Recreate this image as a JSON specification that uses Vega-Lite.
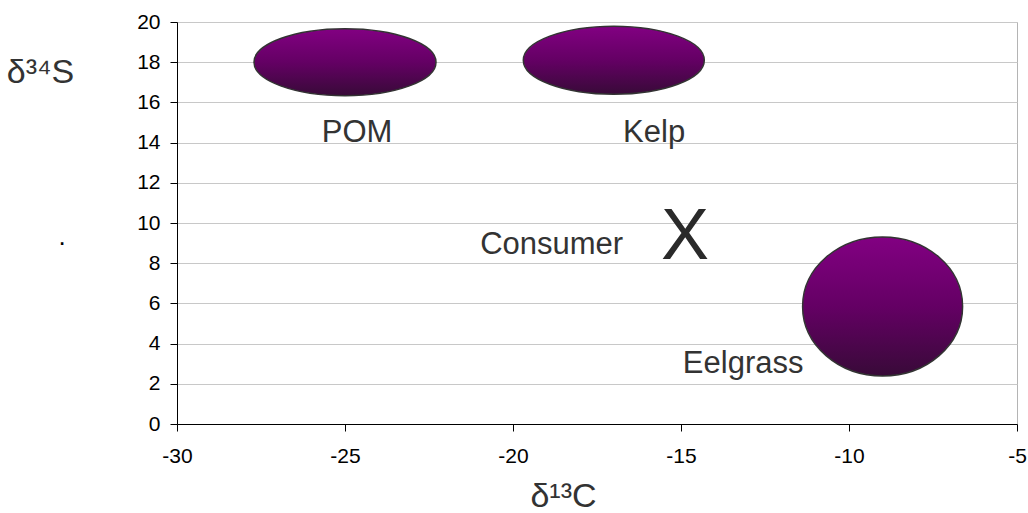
{
  "$schema": "https://vega.github.io/schema/vega-lite/v6.json",
  "width": 840,
  "height": 402,
  "autosize": "none",
  "padding": {"left": 177, "top": 22, "right": 11, "bottom": 89},
  "background": "white",
  "config": {
    "view": {"stroke": "#b4b4b4", "strokeWidth": 1},
    "font": "Liberation Sans"
  },
  "datasets": {
    "sources": [
      {"name": "POM", "x": -25, "y": 18, "lx": -24.64, "ly": 14.5},
      {"name": "Kelp", "x": -17, "y": 18.1, "lx": -15.8, "ly": 14.5},
      {"name": "Eelgrass", "x": -9, "y": 5.85, "lx": -13.15, "ly": 3.0}
    ],
    "consumer": [
      {"name": "Consumer", "x": -14.88, "y": 9.3, "lx": -18.85, "ly": 8.9}
    ],
    "stray": [
      {"x": -33.42, "y": 8.9, "t": "."}
    ]
  },
  "layer": [
    {
      "data": {"name": "sources"},
      "mark": {
        "type": "point",
        "filled": true,
        "opacity": 1,
        "stroke": "#333333",
        "strokeWidth": 1.5,
        "fill": {
          "gradient": "linear",
          "x1": 0, "y1": 0, "x2": 0, "y2": 1,
          "stops": [
            {"offset": 0, "color": "#820082"},
            {"offset": 0.5, "color": "#640064"},
            {"offset": 1, "color": "#380a38"}
          ]
        }
      },
      "encoding": {
        "x": {
          "field": "x", "type": "quantitative",
          "scale": {"domain": [-30, -5], "nice": false, "zero": false},
          "axis": {
            "values": [-30, -25, -20, -15, -10, -5],
            "labelExpr": "'' + datum.value",
            "labelFlush": false,
            "grid": false,
            "domainColor": "black",
            "tickColor": "black",
            "tickSize": 7,
            "labelFontSize": 21,
            "labelColor": "black",
            "labelPadding": 14,
            "title": "δ¹³C",
            "titleFontSize": 34,
            "titleFontWeight": "normal",
            "titleColor": "#333333",
            "titleX": 386,
            "titleY": 82,
            "titleBaseline": "alphabetic",
            "titleAlign": "center"
          }
        },
        "y": {
          "field": "y", "type": "quantitative",
          "scale": {"domain": [0, 20], "nice": false, "zero": false},
          "axis": {
            "values": [0, 2, 4, 6, 8, 10, 12, 14, 16, 18, 20],
            "labelFlush": false,
            "grid": true,
            "gridColor": "#c8c8c8",
            "domainColor": "black",
            "tickColor": "black",
            "tickSize": 7,
            "labelFontSize": 21,
            "labelColor": "black",
            "labelPadding": 10,
            "title": "δ³⁴S",
            "titleFontSize": 34,
            "titleFontWeight": "normal",
            "titleColor": "#333333",
            "titleAngle": 0,
            "titleX": -137,
            "titleY": 60,
            "titleAlign": "center",
            "titleBaseline": "alphabetic"
          }
        },
        "shape": {
          "field": "name", "type": "nominal",
          "scale": {
            "domain": ["POM", "Kelp", "Eelgrass"],
            "range": [
              "M-1,0A1,0.368,0,1,0,1,0A1,0.368,0,1,0,-1,0Z",
              "M-1,0A1,0.376,0,1,0,1,0A1,0.376,0,1,0,-1,0Z",
              "M-1,0A1,0.869,0,1,0,1,0A1,0.869,0,1,0,-1,0Z"
            ]
          },
          "legend": null
        },
        "size": {
          "field": "name", "type": "nominal",
          "scale": {"type": "ordinal", "domain": ["POM", "Kelp", "Eelgrass"], "range": [33124, 32761, 25600]},
          "legend": null
        }
      }
    },
    {
      "data": {"name": "sources"},
      "mark": {"type": "text", "fontSize": 31, "color": "#333333", "align": "center", "baseline": "middle"},
      "encoding": {
        "x": {"field": "lx", "type": "quantitative"},
        "y": {"field": "ly", "type": "quantitative"},
        "text": {"field": "name"}
      }
    },
    {
      "data": {"name": "consumer"},
      "mark": {"type": "text", "fontSize": 31, "color": "#333333", "align": "center", "baseline": "middle"},
      "encoding": {
        "x": {"field": "lx", "type": "quantitative"},
        "y": {"field": "ly", "type": "quantitative"},
        "text": {"field": "name"}
      }
    },
    {
      "data": {"name": "consumer"},
      "mark": {"type": "text", "fontSize": 72, "color": "#2a2a2a", "align": "center", "baseline": "middle", "text": "X"},
      "encoding": {
        "x": {"field": "x", "type": "quantitative"},
        "y": {"field": "y", "type": "quantitative"}
      }
    },
    {
      "data": {"name": "stray"},
      "mark": {"type": "text", "fontSize": 26, "color": "black", "align": "center", "baseline": "alphabetic"},
      "encoding": {
        "x": {"field": "x", "type": "quantitative"},
        "y": {"field": "y", "type": "quantitative"},
        "text": {"field": "t"}
      }
    }
  ]
}
